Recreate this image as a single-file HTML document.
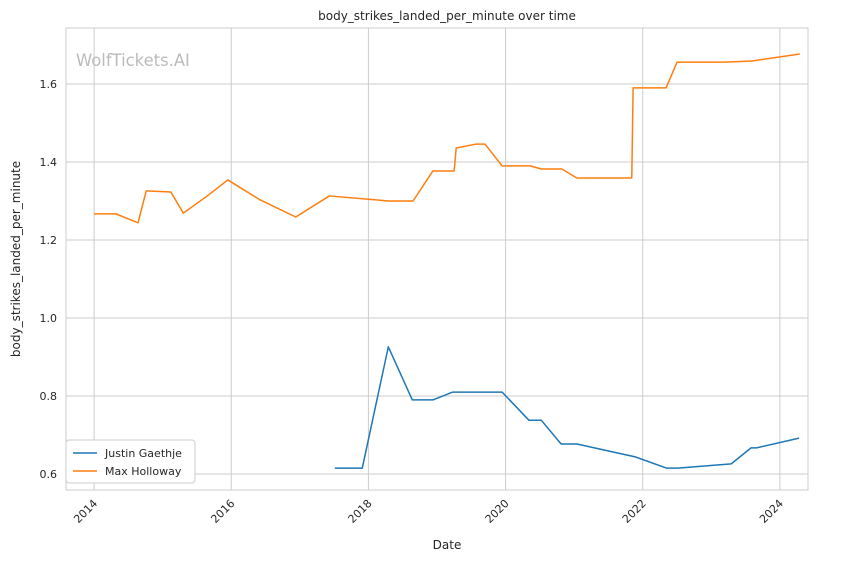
<!DOCTYPE html>
<html><head><meta charset="utf-8"><style>
body{margin:0;background:#fff;font-family:"Liberation Sans","DejaVu Sans",sans-serif}
svg text{font-family:"DejaVu Sans","Liberation Sans",sans-serif}
</style></head><body>
<svg id="chart" width="844" height="561" viewBox="0 0 844 561" xmlns="http://www.w3.org/2000/svg">
<rect width="844" height="561" fill="#fff"/>
<text x="447" y="20" font-size="12" text-anchor="middle" fill="#262626">body_strikes_landed_per_minute over time</text>
<g id="grid"></g>
<text x="76" y="66" font-size="16.4" fill="#bbb">WolfTickets.AI</text>
<g id="series"></g>
<rect x="66" y="28" width="742" height="462" fill="none" stroke="#ccc" stroke-width="1"/>
<g id="ticks"></g>
<text x="447" y="549" font-size="12" text-anchor="middle" fill="#262626">Date</text>
<text transform="translate(20,259) rotate(-90)" font-size="12" text-anchor="middle" fill="#262626">body_strikes_landed_per_minute</text>
<g>
<rect x="66" y="440" width="129" height="43" rx="3" fill="#fff" stroke="#ccc"/>
<line x1="73" y1="453" x2="97" y2="453" stroke="#1f77b4" stroke-width="1.5"/>
<text x="105" y="457" font-size="11" fill="#262626">Justin Gaethje</text>
<line x1="73" y1="471" x2="97" y2="471" stroke="#ff7f0e" stroke-width="1.5"/>
<text x="105" y="475" font-size="11" fill="#262626">Max Holloway</text>
</g>
</svg>
<script>
const gaethjeDates=[2017.51,2017.91,2018.29,2018.64,2018.94,2019.23,2019.95,2020.34,2020.52,2020.81,2021.04,2021.89,2022.35,2022.51,2023.29,2023.58,2023.66,2024.28];
const gaethjeValues=[0.615,0.615,0.926,0.79,0.79,0.81,0.81,0.738,0.738,0.677,0.677,0.644,0.615,0.615,0.626,0.667,0.667,0.692];
const hollowayDates=[2014,2014.32,2014.64,2014.76,2015.12,2015.3,2015.65,2015.95,2016.42,2016.94,2017.43,2018.3,2018.65,2018.94,2019.25,2019.28,2019.57,2019.7,2019.95,2020.36,2020.52,2020.82,2021.04,2021.84,2021.86,2022.34,2022.5,2023.2,2023.59,2024.29];
const hollowayValues=[1.267,1.267,1.244,1.326,1.323,1.269,1.313,1.354,1.303,1.259,1.313,1.3,1.3,1.377,1.377,1.436,1.446,1.446,1.39,1.39,1.382,1.382,1.359,1.359,1.59,1.59,1.656,1.656,1.659,1.677];
const xTicks=[2014,2016,2018,2020,2022,2024];
const yTicks=[0.6,0.8,1.0,1.2,1.4,1.6];
const yTickLabels=["0.6","0.8","1.0","1.2","1.4","1.6"];
const L=66,R=808,T=28,B=490,x0=2013.59,x1=2024.41,y0=0.559,y1=1.7436;
const X=v=>L+(v-x0)/(x1-x0)*(R-L);
const Y=v=>B-(v-y0)/(y1-y0)*(B-T);
const NS="http://www.w3.org/2000/svg";
function mk(tag,attrs,parent){const e=document.createElementNS(NS,tag);for(const k in attrs)e.setAttribute(k,attrs[k]);parent.appendChild(e);return e;}
const grid=document.getElementById('grid'),ticks=document.getElementById('ticks'),series=document.getElementById('series');
xTicks.forEach(t=>{
 const g=mk('line',{x1:X(t),x2:X(t),y1:T,y2:B,stroke:'#ccc','stroke-width':1},grid);
 
 
 const tx=mk('text',{transform:`translate(${X(t)+4},${B+14}) rotate(-45)`,'font-size':11,'text-anchor':'end',fill:'#262626'},ticks);
 tx.textContent=t;
 
 
});
yTicks.forEach((t,i)=>{
 const g=mk('line',{x1:L,x2:R,y1:Y(t),y2:Y(t),stroke:'#ccc','stroke-width':1},grid);
 
 
 const tx=mk('text',{x:L-9,y:Y(t)+4,'font-size':11,'text-anchor':'end',fill:'#262626'},ticks);
 tx.textContent=yTickLabels[i];
 
 
});
function line(ds,vs,color,name){
 const p=mk('polyline',{points:ds.map((d,i)=>X(d)+','+Y(vs[i])).join(' '),fill:'none',stroke:color,'stroke-width':1.5,'stroke-linejoin':'round'},series);
 
 
}
line(gaethjeDates,gaethjeValues,'#1f77b4','gaethje-line');
line(hollowayDates,hollowayValues,'#ff7f0e','holloway-line');
</script>
</body></html>
